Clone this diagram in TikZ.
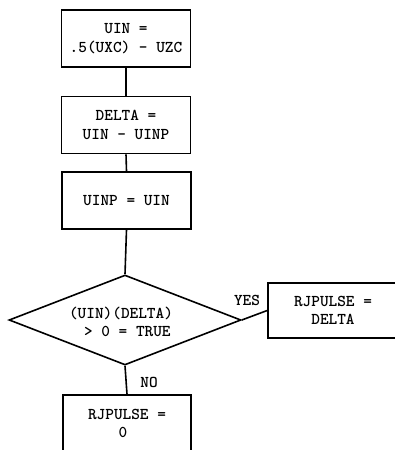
\documentclass[tikz,border=0pt]{standalone}
\usepackage{fontspec}
\usetikzlibrary{shapes.geometric}
\tikzset{
  ttxt/.style={font=\ttfamily\bfseries\fontsize{16.5}{18.5}\selectfont, align=center, inner sep=0pt},
  procbox/.style={draw, line width=1.6pt, rectangle, minimum width=129pt, minimum height=57pt, ttxt},
  decision/.style={draw, line width=1.6pt, diamond, minimum width=232pt, minimum height=90pt, aspect=2.58, inner sep=0pt},
  flow/.style={line width=1.6pt},
  lbl/.style={ttxt}
}
\begin{document}
\begin{tikzpicture}[x=1pt,y=-1pt]
  \useasboundingbox (0,0) rectangle (395,450);
  \clip (0,0) rectangle (395,450);
  \fill[white] (0,0) rectangle (395,450);

  % process boxes
  \node[procbox] (uin)   at (126,38.5)  {UIN =\\.5(UXC) - UZC};
  \node[procbox] (delta) at (126,125)   {DELTA =\\UIN - UINP};
  \node[procbox] (uinp)  at (126.5,200.5) {UINP = UIN};

  % decision
  \node[decision] (test) at (125,320) {};
  \node[ttxt, align=left] (testtext) at (121,322) {(UIN)(DELTA)\\\hspace*{15pt}> 0 = TRUE};

  % outcomes (partly outside the frame)
  \node[procbox, minimum width=130pt, minimum height=55pt] (yesbox) at (333,310.5) {RJPULSE =\\DELTA};
  \node[procbox, minimum width=128pt] (nobox) at (127,423.5) {RJPULSE =\\0\hspace*{8pt}};

  % connectors
  \draw[flow] (uin.south) -- (delta.north);
  \draw[flow] (delta.south) -- (uinp.north);
  \draw[flow] (uinp.south) -- (test.north);
  \draw[flow] (test.east) -- (yesbox.west);
  \draw[flow] (test.south) -- (nobox.north);

  % branch labels
  \node[lbl] (yes) at (247,300) {YES};
  \node[lbl] (no)  at (149,382) {NO};
\end{tikzpicture}
\end{document}
